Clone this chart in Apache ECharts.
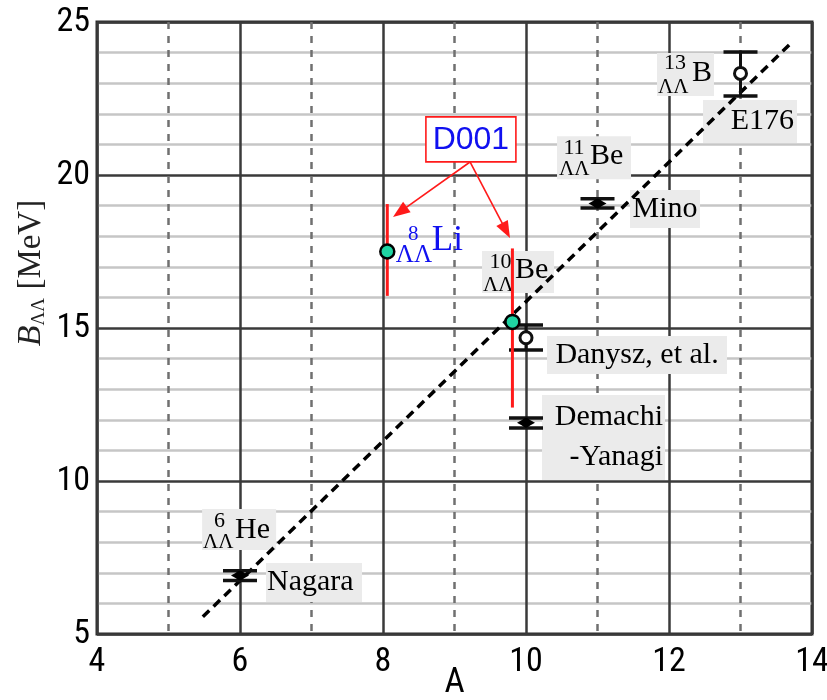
<!DOCTYPE html>
<html><head><meta charset="utf-8">
<script src="https://cdn.jsdelivr.net/npm/echarts@6/dist/echarts.min.js"></script>
<style>html,body{margin:0;padding:0;background:#fff}#c{width:827px;height:700px}</style>
</head><body><div id="c"></div>
<script>
// ---------------- data ----------------
const expNames  = ['Nagara', 'Mino', 'Demachi-Yanagi', 'Danysz, et al.', 'E176'];
const expA      = [6, 11, 10, 10, 13];
const expB      = [6.91, 19.07, 11.90, 14.68, 23.32];
const expLo     = [6.75, 18.92, 11.73, 14.28, 22.58];
const expHi     = [7.07, 19.22, 12.06, 15.10, 24.02];
const expFilled = [1, 1, 1, 0, 0];

const d001A  = [8.06, 9.81];
const d001B  = [17.5, 15.2];
const d001Lo = [16.05, 12.4];
const d001Hi = [19.05, 17.6];

const fitA = [5.48, 13.68];
const fitB = [5.56, 24.25];

const xTickLabels = ['4', '6', '8', '10', '12', '14'];
const yTickLabels = ['5', '10', '15', '20', '25'];

const nucMass = ['6', '8', '10', '11', '13'];
const nucElem = ['He', 'Li', 'Be', 'Be', 'B'];

const tagText = ['Nagara', 'Mino', 'Demachi\n-Yanagi', 'Danysz, et al.', 'E176'];
const d001Text = 'D001';

// ---------------- layout (data-space anchors, pixel styles) ----------------
const nucAnchor = [[5.47, 9.085], [8.18, 18.33], [9.385, 17.516], [10.434, 21.27], [11.832, 23.99]];
const nucStyle = [
  {box: [74, 41], color: '#000', fs: [22, 21, 30], mass: [17.5, 12], ll: [1, 33], el: [33, 21]},
  {box: null,     color: '#1010f0', fs: [21, 25, 35], mass: [17.5, 8], ll: [0, 29], el: [36, 14.5]},
  {box: [72, 42], color: '#000', fs: [22, 21, 30], mass: [18.5, 11], ll: [1, 34], el: [33, 19]},
  {box: [74, 43], color: '#000', fs: [22, 21, 30], mass: [17, 12.5], ll: [2, 33.5], el: [33, 19.5]},
  {box: [57, 43], color: '#000', fs: [22, 21, 30], mass: [18, 10], ll: [1, 34.5], el: [35, 20]}
];
const tagAnchor = [[6.364, 7.32], [11.455, 19.51], [10.224, 12.81], [10.294, 14.74], [12.476, 22.45]];
const tagStyle = [
  {box: [96, 39], align: 'left',   tx: 1},
  {box: [70, 38], align: 'center', tx: 35},
  {box: [123, 85], align: 'right', tx: 121},
  {box: [180, 38], align: 'center', tx: 90},
  {box: [94, 43], align: 'right',  tx: 91}
];
const d001Anchor = [8.60, 21.9];
const arrowFrom = [9.217, 20.425];
const arrowTo = [[8.14, 18.63], [9.776, 17.94]];

const SERIF = '"Liberation Serif","Times New Roman",serif';
const SANS = '"Liberation Sans",Arial,sans-serif';
const NARROW = '"Liberation Sans Narrow","Arial Narrow","Roboto Condensed","DejaVu Sans Condensed","Liberation Sans",sans-serif';

const chart = echarts.init(document.getElementById('c'));

function arrowHead(p0, p1, len, half) {
  const dx = p1[0] - p0[0], dy = p1[1] - p0[1];
  const d = Math.sqrt(dx * dx + dy * dy);
  const ux = dx / d, uy = dy / d;
  const bx = p1[0] - ux * len, by = p1[1] - uy * len;
  return [[p1[0], p1[1]], [bx - uy * half, by + ux * half], [bx + uy * half, by - ux * half]];
}

const option = {
  animation: false,
  backgroundColor: '#fff',
  grid: {left: 97, right: 15, top: 22, bottom: 66, containLabel: false, outerBoundsMode: 'none', show: true,
         borderColor: '#2a2a2a', borderWidth: 3, backgroundColor: '#fff'},
  xAxis: {
    type: 'value', min: 4, max: 14, interval: 2,
    axisLine: {show: false}, axisTick: {show: false},
    axisLabel: {fontFamily: NARROW, fontSize: 34, color: '#000', margin: 11,
                formatter: v => xTickLabels[Math.round((v - 4) / 2)]},
    splitLine: {show: true, lineStyle: {color: '#3a3a3a', width: 2.5}},
    minorTick: {show: false, splitNumber: 2},
    minorSplitLine: {show: true, lineStyle: {color: '#707070', width: 2.5, type: [7, 7]}},
    name: 'A', nameLocation: 'middle', nameGap: 32, nameMoveOverlap: false,
    nameTextStyle: {fontFamily: NARROW, fontSize: 35, color: '#000'}
  },
  yAxis: {
    type: 'value', min: 5, max: 25, interval: 5,
    axisLine: {show: false}, axisTick: {show: false},
    axisLabel: {fontFamily: NARROW, fontSize: 34, color: '#000', margin: 7,
                formatter: v => yTickLabels[Math.round((v - 5) / 5)]},
    splitLine: {show: true, lineStyle: {color: '#3a3a3a', width: 2.5}},
    minorTick: {show: false, splitNumber: 5},
    minorSplitLine: {show: true, lineStyle: {color: '#c6c6c6', width: 2.5}},
    name: '{i|B}{s|ΛΛ}{n| [MeV]}', nameLocation: 'middle', nameGap: 48, nameRotate: 90, nameMoveOverlap: false,
    nameTextStyle: {
      padding: [0, 0, 0, 110],
      rich: {
        i: {fontFamily: SERIF, fontStyle: 'italic', fontSize: 34, lineHeight: 36, color: '#222'},
        s: {fontFamily: SERIF, fontSize: 19, lineHeight: 15, verticalAlign: 'bottom', color: '#222'},
        n: {fontFamily: SERIF, fontSize: 33, lineHeight: 36, color: '#222'}
      }
    }
  },
  series: [
    { // text tags
      type: 'custom', z: 3, silent: true,
      data: tagAnchor.map((a, i) => [a[0], a[1], i]),
      renderItem: (params, api) => {
        const i = params.dataIndex;
        const o = api.coord([api.value(0), api.value(1)]);
        const s = tagStyle[i];
        return {type: 'group', children: [
          {type: 'rect', shape: {x: o[0], y: o[1], width: s.box[0], height: s.box[1]}, style: {fill: '#ebebeb'}},
          {type: 'text', x: o[0] + s.tx, y: o[1] + s.box[1] / 2,
           style: {text: tagText[i], fontFamily: SERIF, fontSize: 30, fill: '#000', align: s.align,
                   verticalAlign: 'middle', lineHeight: 40}}
        ]};
      }
    },
    { // nuclide labels
      type: 'custom', z: 3, silent: true,
      data: nucAnchor.map((a, i) => [a[0], a[1], i]),
      renderItem: (params, api) => {
        const i = params.dataIndex;
        const o = api.coord([api.value(0), api.value(1)]);
        const s = nucStyle[i];
        const ch = [];
        if (s.box) ch.push({type: 'rect', shape: {x: o[0], y: o[1], width: s.box[0], height: s.box[1]}, style: {fill: '#ebebeb'}});
        ch.push({type: 'text', x: o[0] + s.mass[0], y: o[1] + s.mass[1],
                 style: {text: nucMass[i], fontFamily: SERIF, fontSize: s.fs[0], fill: s.color, align: 'center', verticalAlign: 'middle'}});
        ch.push({type: 'text', x: o[0] + s.ll[0], y: o[1] + s.ll[1],
                 style: {text: 'ΛΛ', fontFamily: SERIF, fontSize: s.fs[1], fill: s.color, align: 'left', verticalAlign: 'middle'}});
        ch.push({type: 'text', x: o[0] + s.el[0], y: o[1] + s.el[1],
                 style: {text: nucElem[i], fontFamily: SERIF, fontSize: s.fs[2], fill: s.color, align: 'left', verticalAlign: 'middle'}});
        return {type: 'group', children: ch};
      }
    },
    { // fit line
      type: 'line', z: 4, silent: true, symbol: 'none',
      data: fitA.map((a, i) => [a, fitB[i]]),
      lineStyle: {color: '#000', width: 3.5, type: [9, 6]}
    },
    { // experimental points with error bars
      type: 'custom', z: 5, silent: true,
      data: expA.map((a, i) => [a, expB[i], expLo[i], expHi[i], expFilled[i]]),
      renderItem: (params, api) => {
        const x = api.value(0);
        const p = api.coord([x, api.value(1)]);
        const lo = api.coord([x, api.value(2)]);
        const hi = api.coord([x, api.value(3)]);
        const c = 17;
        const filled = api.value(4) === 1;
        const ch = [
          {type: 'line', shape: {x1: lo[0], y1: lo[1], x2: hi[0], y2: hi[1]}, style: {stroke: '#111', lineWidth: 3}},
          {type: 'line', shape: {x1: lo[0] - c, y1: lo[1], x2: lo[0] + c, y2: lo[1]}, style: {stroke: '#111', lineWidth: 3.5}},
          {type: 'line', shape: {x1: hi[0] - c, y1: hi[1], x2: hi[0] + c, y2: hi[1]}, style: {stroke: '#111', lineWidth: 3.5}}
        ];
        if (filled) {
          ch.push({type: 'polygon', shape: {points: [[p[0] - 9, p[1]], [p[0], p[1] - 5], [p[0] + 9, p[1]], [p[0], p[1] + 5]]}, style: {fill: '#000'}});
          ch.push({type: 'circle', shape: {cx: p[0], cy: p[1], r: 4.5}, style: {fill: '#000'}});
        } else {
          ch.push({type: 'circle', shape: {cx: p[0], cy: p[1], r: 6}, style: {fill: '#fff', stroke: '#111', lineWidth: 3}});
        }
        return {type: 'group', children: ch};
      }
    },
    { // D001 points
      type: 'custom', z: 6, silent: true,
      data: d001A.map((a, i) => [a, d001B[i], d001Lo[i], d001Hi[i]]),
      renderItem: (params, api) => {
        const x = api.value(0);
        const p = api.coord([x, api.value(1)]);
        const lo = api.coord([x, api.value(2)]);
        const hi = api.coord([x, api.value(3)]);
        return {type: 'group', children: [
          {type: 'line', shape: {x1: lo[0], y1: lo[1], x2: hi[0], y2: hi[1]}, style: {stroke: '#ff1a1a', lineWidth: 3}},
          {type: 'circle', shape: {cx: p[0], cy: p[1], r: 7}, style: {fill: '#1fd4a2', stroke: '#000', lineWidth: 2.5}}
        ]};
      }
    },
    { // D001 tag with arrows
      type: 'custom', z: 7, silent: true,
      data: [[d001Anchor[0], d001Anchor[1]]],
      renderItem: (params, api) => {
        const o = api.coord([api.value(0), api.value(1)]);
        const f = api.coord(arrowFrom);
        const ch = [];
        arrowTo.forEach(t => {
          const tp = api.coord(t);
          const head = arrowHead(f, tp, 17, 6.5);
          const dx = tp[0] - f[0], dy = tp[1] - f[1], d = Math.sqrt(dx * dx + dy * dy);
          ch.push({type: 'line', shape: {x1: f[0], y1: f[1], x2: tp[0] - dx / d * 12, y2: tp[1] - dy / d * 12}, style: {stroke: '#ff1a1a', lineWidth: 1.6}});
          ch.push({type: 'polygon', shape: {points: head}, style: {fill: '#ff1a1a'}});
        });
        ch.push({type: 'rect', shape: {x: o[0], y: o[1], width: 90, height: 45}, style: {fill: '#fff', stroke: '#ff1a1a', lineWidth: 1.6}});
        ch.push({type: 'text', x: o[0] + 45, y: o[1] + 23,
                 style: {text: d001Text, fontFamily: SANS, fontSize: 32, fill: '#1010f0', align: 'center', verticalAlign: 'middle'}});
        return {type: 'group', children: ch};
      }
    }
  ]
};
chart.setOption(option);
</script>
</body></html>
